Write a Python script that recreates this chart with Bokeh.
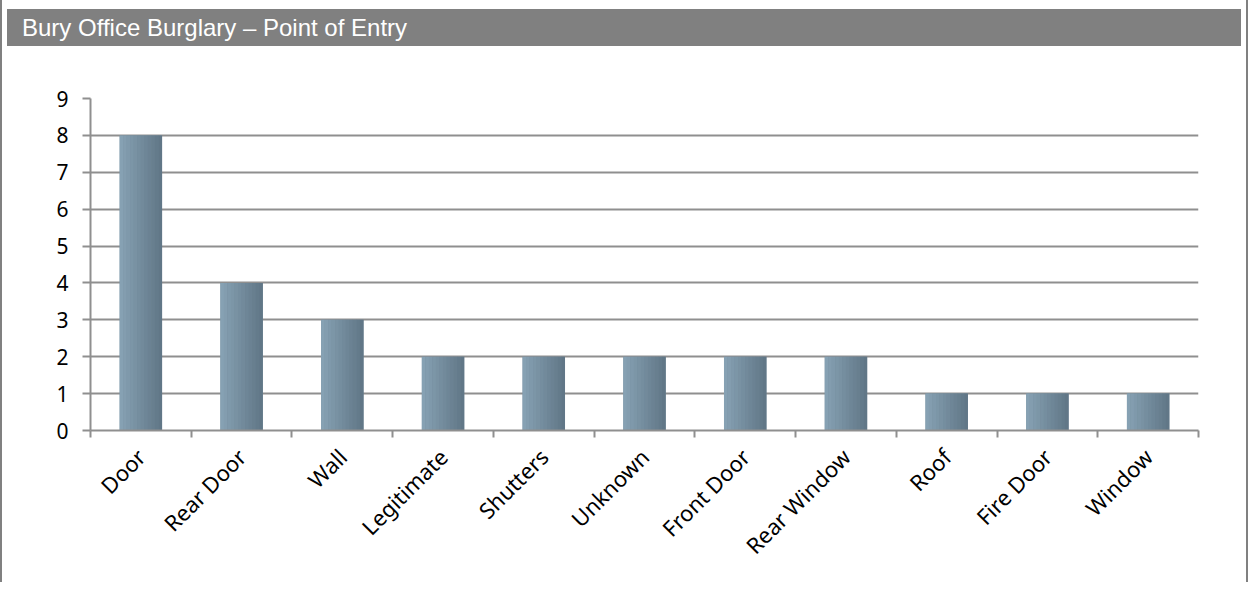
from bokeh.plotting import figure
from bokeh.models import FixedTicker, Div
from bokeh.layouts import column
from bokeh.embed import file_html
from bokeh.resources import INLINE
import math

categories = ["Door", "Rear Door", "Wall", "Legitimate", "Shutters", "Unknown",
              "Front Door", "Rear Window", "Roof", "Fire Door", "Window"]
counts = [8, 4, 3, 2, 2, 2, 2, 2, 1, 1, 1]
y_ticks = [0, 1, 2, 3, 4, 5, 6, 7, 8, 9]

title_text = "Bury Office Burglary \u2013 Point of Entry"
GRID = "#8f8f8f"

centers = [i + 0.5 for i in range(len(categories))]

p = figure(width=1230, height=531, output_backend="svg", toolbar_location=None,
           x_range=(0, len(categories)), y_range=(0, 9),
           min_border_left=88, min_border_right=34, min_border_top=47, min_border_bottom=152)
p.outline_line_color = None

bar_w = 0.42
p.vbar(x=centers, top=counts, bottom=0, width=bar_w, fill_color="#71899a", line_color=None)
left_c = (0x88, 0xa3, 0xb5)
right_c = (0x5f, 0x75, 0x85)
n = 12
for k in range(n):
    t = (k + 0.5) / n
    col = "#%02x%02x%02x" % tuple(int(round(a + (b - a) * t)) for a, b in zip(left_c, right_c))
    xs = [c - bar_w / 2 + (k + 0.5) * bar_w / n for c in centers]
    p.vbar(x=xs, top=counts, bottom=0, width=bar_w / n + 0.002, fill_color=col, line_color=None)

xa = p.xaxis[0]
xa.ticker = FixedTicker(ticks=centers, minor_ticks=list(range(len(categories) + 1)))
xa.major_label_overrides = {c: name for c, name in zip(centers, categories)}
xa.major_tick_out = 0
xa.major_tick_in = 0
xa.minor_tick_out = 7
xa.minor_tick_in = 0
xa.minor_tick_line_color = GRID
xa.minor_tick_line_width = 2
xa.axis_line_color = GRID
xa.axis_line_width = 2
xa.major_label_orientation = math.pi / 4
xa.major_label_text_font = "Noto Sans"
xa.major_label_text_font_size = "22px"
xa.major_label_text_color = "#000000"
xa.major_label_standoff = 15

ya = p.yaxis[0]
ya.ticker = FixedTicker(ticks=y_ticks)
ya.major_tick_out = 8
ya.major_tick_in = 0
ya.minor_tick_out = 0
ya.minor_tick_in = 0
ya.major_tick_line_color = GRID
ya.major_tick_line_width = 2
ya.axis_line_color = GRID
ya.axis_line_width = 2
ya.major_label_text_font = "Noto Sans"
ya.major_label_text_font_size = "21px"
ya.major_label_text_color = "#000000"
ya.major_label_standoff = 14

p.xgrid.grid_line_color = None
p.ygrid.ticker = FixedTicker(ticks=y_ticks)
p.ygrid.grid_line_color = GRID
p.ygrid.grid_line_width = 2

div = Div(text=title_text, width=1234, height=41,
          styles={"background-color": "#808080", "color": "#ffffff",
                  "font-family": "Liberation Sans, Arial, sans-serif",
                  "font-size": "24px", "line-height": "37px",
                  "border-top": "4px solid #ffffff",
                  "padding-left": "15px", "box-sizing": "border-box"})

layout = column(div, p, spacing=0,
                styles={"border-left": "2px solid #808080", "border-right": "2px solid #808080"})

open("out.html", "w").write(file_html(layout, INLINE))
